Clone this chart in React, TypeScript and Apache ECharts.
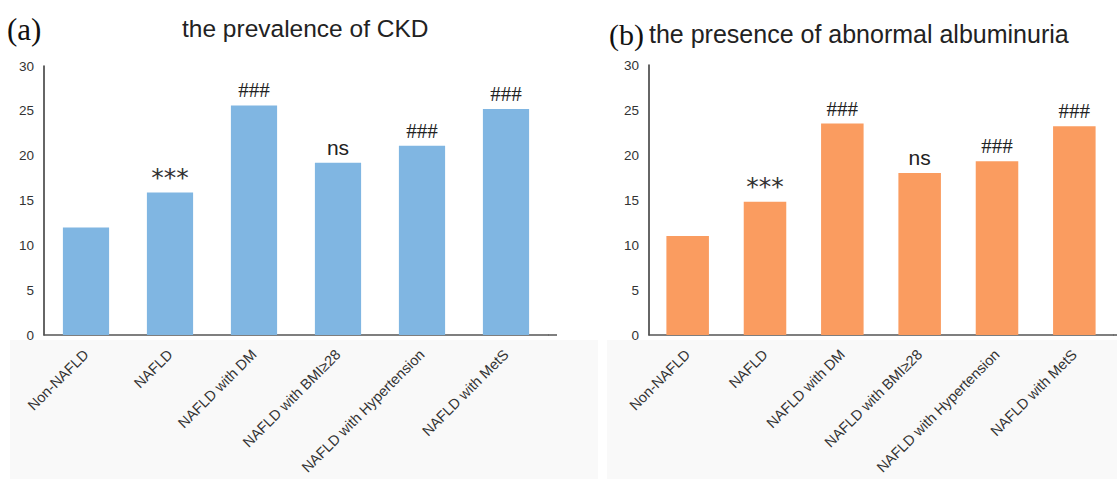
import React, { useEffect, useRef } from "react";
import * as echarts from "echarts";

const categories = [
  "Non-NAFLD",
  "NAFLD",
  "NAFLD with DM",
  "NAFLD with BMI≥28",
  "NAFLD with Hypertension",
  "NAFLD with MetS",
];
const ckdValues = [12.0, 15.9, 25.6, 19.2, 21.1, 25.2];
const albuminuriaValues = [11.0, 14.8, 23.5, 18.0, 19.3, 23.2];
const significance = ["", "***", "###", "ns", "###", "###"];
const titleA = "the prevalence of CKD";
const titleB = "the presence of abnormal albuminuria";
const yMin = 0;
const yMax = 30;
const yStep = 5;

const SANS = "'Liberation Sans', Arial, Helvetica, sans-serif";
const SERIF = "'Liberation Serif', 'Times New Roman', serif";

function markFormatter(p: any) {
  const m = significance[p.dataIndex];
  if (!m) return "";
  if (m === "ns") return "{n|ns}";
  if (m === "***") return "{a|***}";
  return "{h|###}";
}

const labelRich = {
  h: { fontFamily: SERIF, fontSize: 21, color: "#222", lineHeight: 20 },
  a: { fontFamily: "'DejaVu Sans', sans-serif", fontSize: 25, color: "#333", lineHeight: 20 },
  n: { fontFamily: SANS, fontSize: 21, color: "#222", lineHeight: 21 },
};

function yAxisCfg(gridIndex: number) {
  return {
    type: "value",
    gridIndex,
    min: yMin,
    max: yMax,
    interval: yStep,
    axisLine: { show: true, lineStyle: { color: "#333", width: 1.5 } },
    axisTick: { show: false },
    splitLine: { show: false },
    axisLabel: { color: "#333", fontSize: 13.5, fontFamily: SANS, margin: 10 },
  };
}

function xAxisCfg(gridIndex: number) {
  return {
    type: "category",
    gridIndex,
    data: categories,
    axisLine: { show: true, lineStyle: { color: "#555", width: 1.5 } },
    axisTick: { show: false },
    axisLabel: {
      interval: 0,
      rotate: 45,
      margin: 17,
      color: "#333",
      fontSize: 14.5,
      fontFamily: SANS,
    },
  };
}

export default function App() {
  const ref = useRef<HTMLDivElement>(null);
  useEffect(() => {
    document.body.style.margin = "0";
    const chart = echarts.init(ref.current!, undefined, { renderer: "svg" });
    chart.setOption({
      animation: false,
      backgroundColor: "#fff",
      graphic: [
        { type: "rect", z: -10, shape: { x: 10, y: 340, width: 588, height: 139 }, style: { fill: "#f9f9f9" } },
        { type: "rect", z: -10, shape: { x: 607, y: 340, width: 510, height: 139 }, style: { fill: "#f9f9f9" } },
        { type: "line", shape: { x1: 548, y1: 335, x2: 557, y2: 335 }, style: { stroke: "#555", lineWidth: 1.5 } },
        { type: "line", shape: { x1: 1113, y1: 335, x2: 1117, y2: 335 }, style: { stroke: "#555", lineWidth: 1.5 } },
        { type: "text", x: 7, y: 14, style: { text: "(a)", font: `31px ${SERIF}`, fill: "#111" } },
        { type: "text", x: 182, y: 16, style: { text: titleA, font: `24.5px ${SANS}`, fill: "#222" } },
        { type: "text", x: 609, y: 19, style: { text: "(b)", font: `30px ${SERIF}`, fill: "#111" } },
        { type: "text", x: 649, y: 21, style: { text: titleB, font: `25px ${SANS}`, fill: "#222" } },
      ],
      grid: [
        { left: 44, top: 66, width: 504, height: 269 },
        { left: 649, top: 65, width: 464, height: 270 },
      ],
      xAxis: [xAxisCfg(0), xAxisCfg(1)],
      yAxis: [yAxisCfg(0), yAxisCfg(1)],
      series: [
        {
          type: "bar",
          xAxisIndex: 0,
          yAxisIndex: 0,
          data: ckdValues,
          barWidth: "55%",
          itemStyle: { color: "#80b6e2" },
          label: { show: true, position: "top", distance: 5, formatter: markFormatter, rich: labelRich },
        },
        {
          type: "bar",
          xAxisIndex: 1,
          yAxisIndex: 1,
          data: albuminuriaValues,
          barWidth: "55%",
          itemStyle: { color: "#fa9c60" },
          label: { show: true, position: "top", distance: 5, formatter: markFormatter, rich: labelRich },
        },
      ],
    });
    return () => chart.dispose();
  }, []);
  return <div ref={ref} style={{ width: 1117, height: 479 }} />;
}
